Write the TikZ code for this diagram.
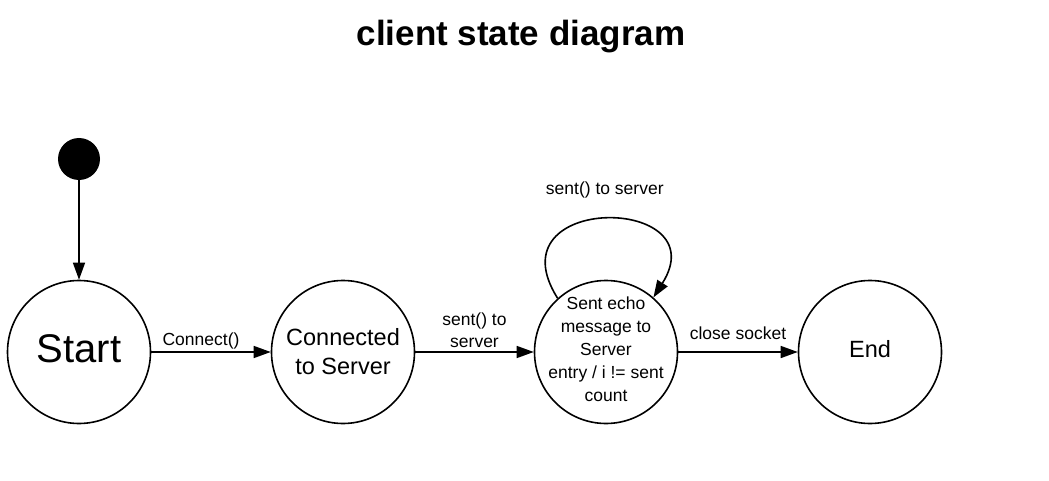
\documentclass[tikz,border=0pt]{standalone}
\usepackage{fontspec}
\setmainfont{Liberation Sans}
\usetikzlibrary{arrows.meta}

\begin{document}
\begin{tikzpicture}[x=1pt,y=-1pt]
				\tikzset{state/.style={draw,circle,line width=1.6pt,minimum size=143pt,inner sep=0pt,align=center}}
				\tikzset{trans/.style={line width=1.6pt,-{Triangle[length=17pt,width=12pt]}}}
				\tikzset{lbl/.style={font=\fontsize{17.5}{22}\selectfont,align=center,inner sep=2pt}}
				\useasboundingbox (0,0) rectangle (1049,481);
				\node[font=\bfseries\fontsize{35}{40}\selectfont] (title) at (521,37) {client state diagram};
				\node[circle,fill,minimum size=42pt,inner sep=0pt] (init) at (79,159) {};
				\node[state,font=\fontsize{40}{44}\selectfont] (start) at (79,352) {\raisebox{7pt}{Start}};
				\node[state,font=\fontsize{23.5}{29}\selectfont] (conn) at (343,352) {Connected\\to Server};
				\node[state] (sent) at (606,352) {};
				\node[font=\fontsize{17.5}{23}\selectfont,align=center] (senttext) at (606,349) {Sent echo\\message to\\Server\\entry / i != sent\\count};
				\node[state,font=\fontsize{23.5}{29}\selectfont] (end) at (870,352) {\raisebox{7pt}{End}};
				\draw[trans] (init) -- (start);
				\draw[trans] (start) -- node[lbl,above,xshift=-10pt] {Connect()} (conn);
				\draw[trans] (conn) -- node[lbl,above,yshift=2pt] {sent() to\\server} (sent);
				\draw[trans] (sent.132) .. controls +(-67,-106) and +(65,-103) .. node[lbl,above=19pt] {sent() to server} (sent.49);
				\draw[trans] (sent) -- node[lbl,above,yshift=10pt] {close socket} (end);
			\end{tikzpicture}
\end{document}
